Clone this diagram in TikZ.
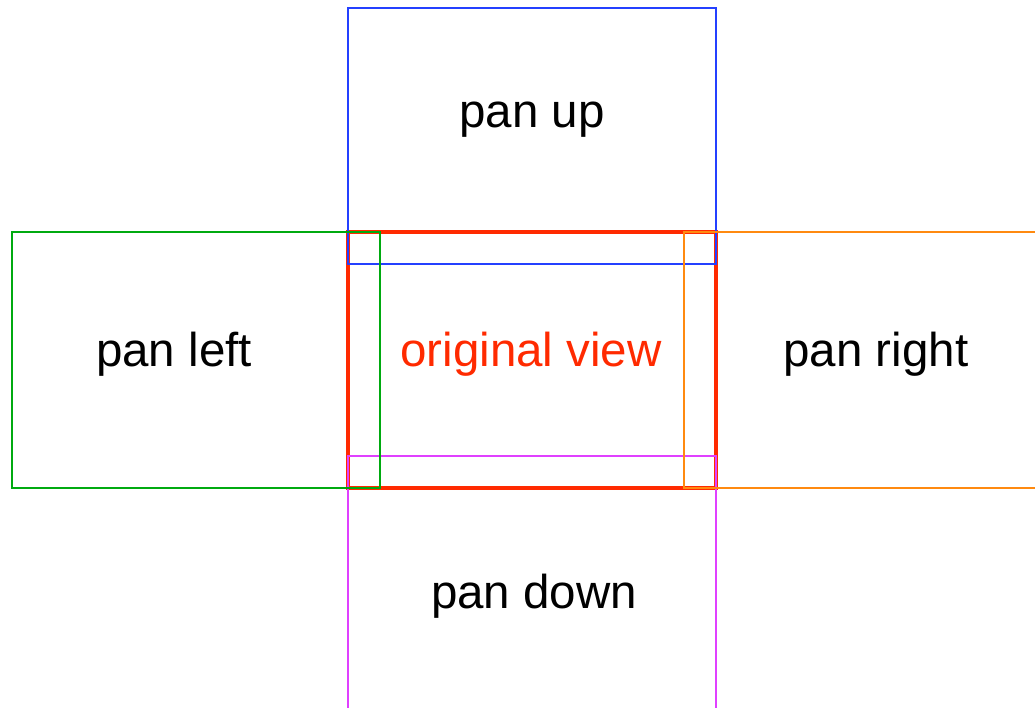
\documentclass[tikz,border=0pt]{standalone}
\usepackage{fontspec}
\setmainfont{Liberation Sans}
\definecolor{cblue}{HTML}{2440FF}
\definecolor{cred}{HTML}{FF2A00}
\definecolor{cgreen}{HTML}{00AA10}
\definecolor{corange}{HTML}{FF8A10}
\definecolor{cmag}{HTML}{E040FF}
\begin{document}
\begin{tikzpicture}[x=1pt,y=-1pt,
  frame/.style={line width=1.5pt},
  lbl/.style={anchor=base,inner sep=0pt,font=\fontsize{47.5}{56}\selectfont}]
\useasboundingbox (0,0) rectangle (1035,708);
\draw[cred,line width=4.8pt] (348,232) rectangle (716,488);
\draw[frame,cblue] (348,8) rectangle (716,264);
\draw[frame,cmag] (348,720) -- (348,456) -- (716,456) -- (716,720);
\draw[frame,corange] (1045,232) -- (684,232) -- (684,488) -- (1045,488);
\draw[frame,cgreen] (12,232) rectangle (380,488);
\node[lbl] (up) at (532,128) {pan up};
\node[lbl] (left) at (174,366) {pan left};
\node[lbl,text=cred] (orig) at (531,366) {original view};
\node[lbl] (right) at (876,366) {pan right};
\node[lbl] (down) at (534,608) {pan down};
\end{tikzpicture}
\end{document}
